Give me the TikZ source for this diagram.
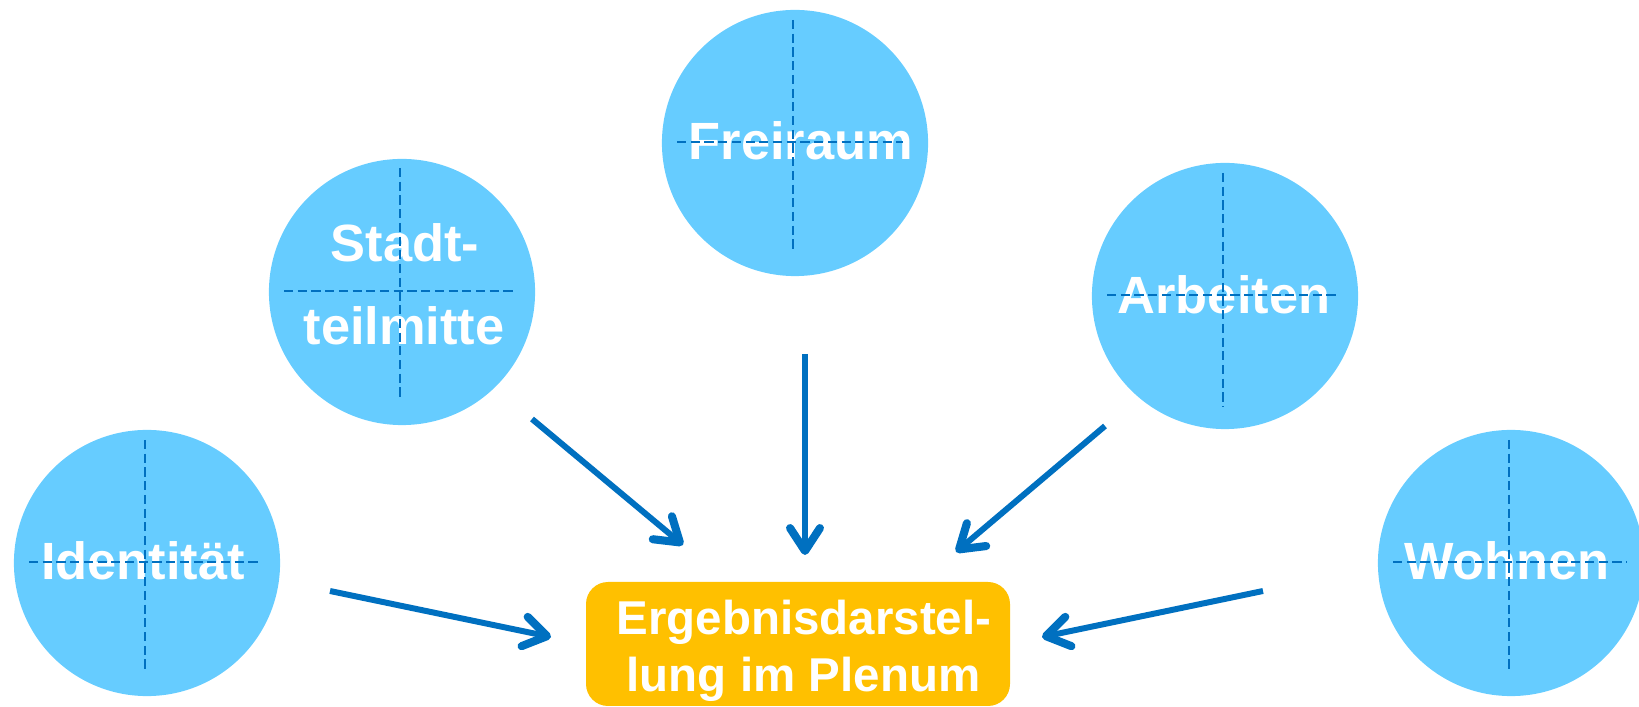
\documentclass[tikz,border=0pt]{standalone}
\usepackage{fontspec}
\setmainfont{Liberation Sans}
\usetikzlibrary{arrows.meta}
\definecolor{circfill}{HTML}{66CCFF}
\definecolor{linkblue}{HTML}{0070C0}
\definecolor{boxorange}{HTML}{FFC000}
\tikzset{
  topic/.style={circle, fill=circfill, minimum size=2.66cm, inner sep=0pt},
  topictext/.style={anchor=base, text=white, inner sep=0pt, font=\fontsize{14.9}{17}\selectfont\bfseries},
  boxtext/.style={anchor=base, text=white, inner sep=0pt, font=\fontsize{13.5}{16}\selectfont\bfseries},
  guide/.style={linkblue, line width=0.7pt, dash pattern=on 2.6pt off 1.3pt},
  link/.style={linkblue, line width=1.7pt, -{Straight Barb[length=6.5pt,width=8.5pt,line width=2.3pt,round]}},
  resultbox/.style={fill=boxorange, rounded corners=0.22cm}
}
\begin{document}
\begin{tikzpicture}[x=0.01cm, y=-0.01cm]
\useasboundingbox (0,0) rectangle (1639,707);
% circles
\node[topic] (ident) at (147,563) {};
\node[topic] (stadt) at (402,292) {};
\node[topic] (frei) at (795,143) {};
\node[topic] (arbeit) at (1225,296) {};
\node[topic] (wohn) at (1511,563) {};
% result box
\path[resultbox] (586,582) rectangle (1010,706);
\node (result) at (798,644) {};
% texts
\node[topictext] (identT) at (143,580) {Identität};
\node[topictext] (stadtT1) at (405,262) {Stadt-};
\node[topictext] (stadtT2) at (404,345) {teilmitte};
\node[topictext] (freiT) at (801,160) {Freiraum};
\node[topictext] (arbeitT) at (1224,314) {Arbeiten};
\node[topictext] (wohnT) at (1507,580) {Wohnen};
\node[boxtext] (resT1) at (804,635) {Ergebnisdarstel-};
\node[boxtext] (resT2) at (803.5,692) {lung im Plenum};
% dashed guides
\draw[guide] (145,440) -- (145,672);
\draw[guide] (29,562) -- (260,562);
\draw[guide] (400,168) -- (400,400);
\draw[guide] (284,291) -- (517,291);
\draw[guide] (793,20) -- (793,252);
\draw[guide] (677,142) -- (903,142);
\draw[guide] (1223,173) -- (1223,407);
\draw[guide] (1107,295) -- (1338,295);
\draw[guide] (1509,440) -- (1509,672);
\draw[guide] (1393,562) -- (1627,562);
% arrow end points
\coordinate (sA) at (532,419);  \coordinate (eA) at (683,545);
\coordinate (sB) at (330,591);  \coordinate (eB) at (551,637);
\coordinate (sC) at (805,354);  \coordinate (eC) at (805,555);
\coordinate (sD) at (1105,426); \coordinate (eD) at (956,552);
\coordinate (sE) at (1263,591); \coordinate (eE) at (1042,637);
\draw[link] (sA) -- (eA);
\draw[link] (sB) -- (eB);
\draw[link] (sC) -- (eC);
\draw[link] (sD) -- (eD);
\draw[link] (sE) -- (eE);
\end{tikzpicture}
\end{document}
